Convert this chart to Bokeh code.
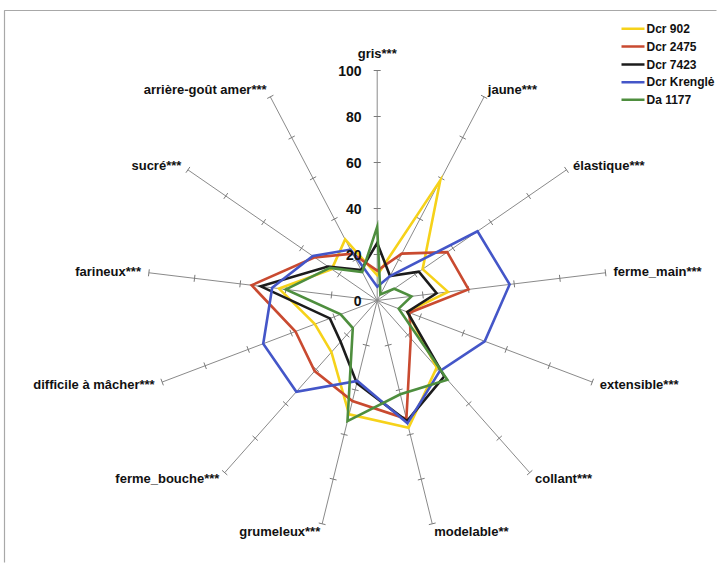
import math
from bokeh.plotting import figure
from bokeh.models import Range1d
from bokeh.core.properties import value
from bokeh.embed import file_html
from bokeh.resources import INLINE

# ---------------- data ----------------
categories = ["gris***", "jaune***", "élastique***", "ferme_main***", "extensible***",
              "collant***", "modelable**", "grumeleux***", "ferme_bouche***",
              "difficile à mâcher***", "farineux***", "sucré***", "arrière-goût amer***"]
series_names = ["Dcr 902", "Dcr 2475", "Dcr 7423", "Dcr Krenglė", "Da 1177"]
dcr_902 = [11, 59, 24, 31, 14, 39, 57, 51, 30, 29, 43, 24, 30]
dcr_2475 = [13, 23, 37, 40, 15, 22, 53, 45, 41, 38, 55, 33, 23]
dcr_7423 = [25, 12, 22, 26, 14, 44, 54, 37, 24, 22, 51, 26, 15]
dcr_krengle = [6, 12, 53, 58, 50, 41, 55, 36, 53, 53, 46, 34, 25]
da_1177 = [32, 3, 9, 15, 10, 46, 42, 54, 16, 17, 40, 25, 14]
tick_values = [0, 20, 40, 60, 80, 100]
tick_labels = ["0", "20", "40", "60", "80", "100"]

series_values = [dcr_902, dcr_2475, dcr_7423, dcr_krengle, da_1177]
colors = ["#F6D21A", "#C94A30", "#1C1C1C", "#4456C8", "#4E8E3E"]

# ---------------- layout ----------------
W, H = 718, 564
PX = 2.3             # pixels per value unit
CX, CY = 376.7, 300  # centre of the radar in figure pixels
RMAX = 100
FONT = "Liberation Sans"

p = figure(width=W, height=H, output_backend="svg", toolbar_location=None,
           x_range=Range1d(-CX / PX, (W - CX) / PX),
           y_range=Range1d(-(H - CY) / PX, CY / PX),
           x_axis_type=None, y_axis_type=None, min_border=0)
p.grid.visible = False
p.outline_line_color = None
p.background_fill_color = "white"
p.border_fill_color = "white"

n = len(categories)
angles = [math.pi / 2 - 2 * math.pi * k / n for k in range(n)]
cosv = [math.cos(a) for a in angles]
sinv = [math.sin(a) for a in angles]

to_dx = lambda px: (px - CX) / PX
to_dy = lambda py: (CY - py) / PX

# chart frame (top and left edges)
p.line([to_dx(4), to_dx(4), to_dx(716)], [to_dy(562), to_dy(10), to_dy(10)],
       line_color="#a8a8a8", line_width=1.2)

# spokes
p.multi_line(xs=[[0, RMAX * c] for c in cosv], ys=[[0, RMAX * s] for s in sinv],
             line_color="#8a8a8a", line_width=1)

# tick marks on every spoke
half = 3.5 / PX
txs, tys = [], []
for c, s in zip(cosv, sinv):
    for v in tick_values[1:]:
        mx, my = v * c, v * s
        txs.append([mx - half * s, mx + half * s])
        tys.append([my + half * c, my - half * c])
p.multi_line(xs=txs, ys=tys, line_color="#7a7a7a", line_width=1)

# series: closed outlines
for vals, col in zip(series_values, colors):
    xs = [v * c for v, c in zip(vals, cosv)]
    ys = [v * s for v, s in zip(vals, sinv)]
    p.patch(xs, ys, fill_alpha=0, line_color=col, line_width=2.6, line_join="miter")

# value labels on the first spoke
p.text(x=[-15.7 / PX] * len(tick_values), y=tick_values, text=tick_labels,
       text_font=value(FONT), text_font_size="14px", text_font_style="bold",
       text_align="right", text_baseline="middle", text_color="#111111")

# category labels
for cat, c, s in zip(categories, cosv, sinv):
    off = (17 if abs(c) < 0.05 else 8) / PX
    a = "left" if c > 0.05 else ("right" if c < -0.05 else "center")
    p.text(x=[(RMAX + off) * c], y=[(RMAX + off) * s], text=[cat],
           text_font=value(FONT), text_font_size="13px", text_font_style="bold",
           text_align=a, text_baseline="middle", text_color="#111111")

# legend
leg_x0, leg_x1, leg_tx = 621, 644, 646
leg_y = [28.3, 46, 64, 81.7, 99.3]
p.multi_line(xs=[[to_dx(leg_x0), to_dx(leg_x1)] for _ in leg_y],
             ys=[[to_dy(y), to_dy(y)] for y in leg_y],
             line_color=colors, line_width=2.6)
p.text(x=[to_dx(leg_tx)] * 5, y=[to_dy(y) for y in leg_y], text=series_names,
       text_font=value(FONT), text_font_size="12px", text_font_style="bold",
       text_align="left", text_baseline="middle", text_color="#111111")

open("out.html", "w").write(file_html(p, INLINE))
